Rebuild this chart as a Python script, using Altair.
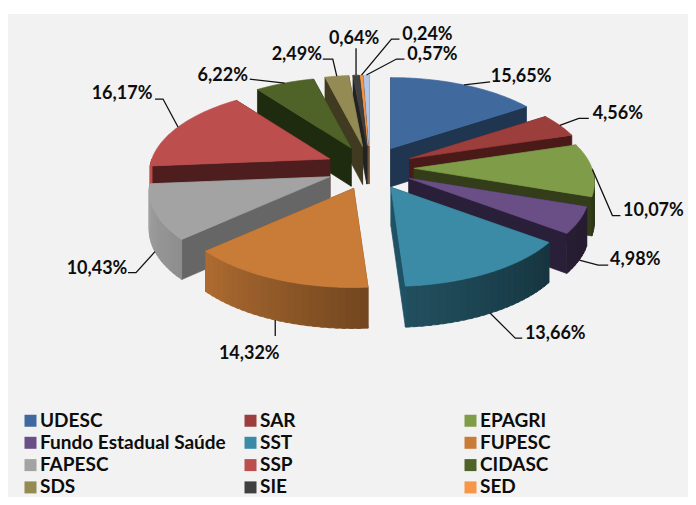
import numpy as np
import pandas as pd
import altair as alt

NAMES = ["UDESC", "SAR", "EPAGRI", "Fundo Estadual Saúde", "SST", "FUPESC",
         "FAPESC", "SSP", "CIDASC", "SDS", "SIE", "SED", "Outros"]
VALUES = [15.65, 4.56, 10.07, 4.98, 13.66, 14.32, 10.43, 16.17, 6.22, 2.49, 0.64, 0.24, 0.57]
TOP = ["#406a9e", "#9b3e3c", "#7f9c48", "#6a4f87", "#3b8ba6", "#c97c38",
       "#a3a3a3", "#bc4f4e", "#4f6228", "#948a54", "#404040", "#f79646", "#b3c6e7"]
SIDE = ["#1f3550", "#4a1a18", "#333d1a", "#2a1f38", "#1f5265", "#6e431c",
        "#666666", "#4e1e1e", "#1f2b0e", "#3f3a20", "#222222", "#7a4a20", "#5a6478"]
LEGEND_NAMES = NAMES[:12]

# Annotation layout, relative to the rim point at each slice's mid-angle:
# label centre (dx, dy), then the bends of the leader line.
LABEL_OFFSET = [(57, -8), (58, -11), (61, 41), (56, 0), (65, 21), (-26, 34),
                (-58, 17), (-56, -33), (-62, -7), (-40, -21), (-2, -36), (66, -40), (66, -20)]
LEADER_BENDS = [[(26, -3)], [(19, -7), (29, -7)], [(20, 46), (28, 46)], [(19, 5), (29, 5)],
                [(25, 25), (32, 25)], [(0, 16)], [(-19, 21), (-27, 21)], [(-15, -28), (-23, -28)],
                [(-35, -4)], [(-4, -17), (-14, -17)], [(0, -27)], [(30, -36), (38, -36)], [(30, -16), (38, -16)]]
# Slices whose leader leaves from the foot of the outer wall
WALL_LEADER = {"Fundo Estadual Saúde", "SST", "FUPESC", "FAPESC"}

# Projection
CX, CY = 370, 168            # pie centre on the page
RX, RY, PERSP = 178, 82.7, 0.165
EX, EY = 44, 22              # how far a slice is pulled out
DEPTH_BACK, DEPTH_FRONT = 37, 41
SHADE_T = [0, 100, 127, 176, 228, 265, 360]
SHADE_K = [0.35, 0.35, 0.38, 0.57, 0.87, 1.0, 1.0]


def rim(t, r=1.0):
    c, s = np.cos(np.radians(t)), np.sin(np.radians(t))
    p = 1 / (1 + PERSP * c)
    return RX * s * p * r, -RY * c * p * r


def depth(y):
    return np.interp(y, [100, 280], [DEPTH_BACK, DEPTH_FRONT])


def shade(hex_col, k):
    rgb = [int(hex_col[i:i + 2], 16) for i in (1, 3, 5)]
    return "#" + "".join(f"{int(round(c * k)):02x}" for c in rgb)


polys, leader_rows, label_rows = [], [], []
pid = 0


def add_poly(pts, color):
    global pid
    pid += 1
    for s, (x, y) in enumerate(pts + pts[:1]):
        polys.append(dict(id=pid, seq=s, x=x, y=y, color=color))


edges = np.concatenate([[0], np.cumsum(VALUES)]) / sum(VALUES) * 360
mids = (edges[:-1] + edges[1:]) / 2
for i in sorted(range(len(VALUES)), key=lambda j: -np.cos(np.radians(mids[j]))):
    t1, t2, b = edges[i], edges[i + 1], mids[i]
    ax = CX + EX * np.sin(np.radians(b))
    ay = CY - EY * np.cos(np.radians(b))

    def P(t):
        dx, dy = rim(t)
        return ax + dx, ay + dy

    def down(pt):
        return pt[0], pt[1] + depth(pt[1])

    ts = np.arange(t1, t2, 1.0).tolist() + [t2]
    # radial faces
    for t in (t1, t2):
        add_poly([(ax, ay), P(t), down(P(t)), down((ax, ay))], SIDE[i])
    # outer wall, only where it faces the viewer, in narrow overlapping strips
    lo, hi = max(t1, 90.0), min(t2, 270.0)
    if hi > lo:
        strip = np.arange(lo, hi, 2.0).tolist() + [hi]
        for u, v in zip(strip[:-1], strip[1:]):
            k = float(np.interp((u + v) / 2, SHADE_T, SHADE_K))
            w = min(v + 1.0, hi)
            add_poly([P(u), P(w), down(P(w)), down(P(u))], shade(TOP[i], k))
    # top face
    add_poly([(ax, ay)] + [P(t) for t in ts], TOP[i])

    # label and leader
    rx, ry = P(b)
    if NAMES[i] in WALL_LEADER:
        ry += depth(ry)
    pts = [(rx, ry)] + [(rx + d[0], ry + d[1]) for d in LEADER_BENDS[i]]
    for s, (x, y) in enumerate(pts):
        leader_rows.append(dict(id=i, seq=s, x=x, y=y))
    label_rows.append(dict(x=rx + LABEL_OFFSET[i][0], y=ry + LABEL_OFFSET[i][1],
                           text=f"{VALUES[i]:.2f}".replace(".", ",") + "%"))

X = alt.X("x:Q", axis=None, scale=alt.Scale(domain=[8, 688], nice=False, zero=False))
Y = alt.Y("y:Q", axis=None, scale=alt.Scale(domain=[497, 8], nice=False, zero=False))

panel = alt.Chart(pd.DataFrame({"a": [0]})).mark_rect(color="#f2f2f2").encode(
    x=alt.value(0), x2=alt.value(680), y=alt.value(6), y2=alt.value(489))

pie = alt.Chart(pd.DataFrame(polys)).mark_line(strokeWidth=0.7, interpolate="linear").encode(
    x=X, y=Y, detail="id:N", order="seq:Q",
    fill=alt.Fill("color:N", scale=None), stroke=alt.Stroke("color:N", scale=None))

leaders = alt.Chart(pd.DataFrame(leader_rows)).mark_line(color="#111111", strokeWidth=1.3).encode(
    x=X, y=Y, detail="id:N", order="seq:Q")

labels = alt.Chart(pd.DataFrame(label_rows)).mark_text(
    font="Lato", fontWeight="bold", fontSize=18, color="#0d0d0d", align="center", baseline="middle"
).encode(x=X, y=Y, text="text:N")

legend_layer = alt.Chart(pd.DataFrame({"name": LEGEND_NAMES})).mark_square(size=0).encode(
    x=alt.value(0), y=alt.value(0),
    color=alt.Color("name:N",
                    scale=alt.Scale(domain=LEGEND_NAMES, range=TOP[:12]),
                    legend=alt.Legend(orient="none", legendX=13, legendY=403, direction="horizontal",
                                      columns=3, gridAlign="all", title=None,
                                      symbolType="square", symbolSize=144, symbolStrokeWidth=0,
                                      symbolOpacity=1, labelFont="Lato", labelFontWeight="bold",
                                      labelFontSize=19, labelColor="#0d0d0d", labelOffset=0,
                                      rowPadding=2.3, columnPadding=15, labelLimit=300)))

chart = alt.layer(panel, pie, leaders, labels, legend_layer).properties(
    width=680, height=489, padding=0, autosize="none", background="#ffffff"
).configure_view(stroke=None)

chart.save("out.html", embed_options={"renderer": "svg", "actions": False})
